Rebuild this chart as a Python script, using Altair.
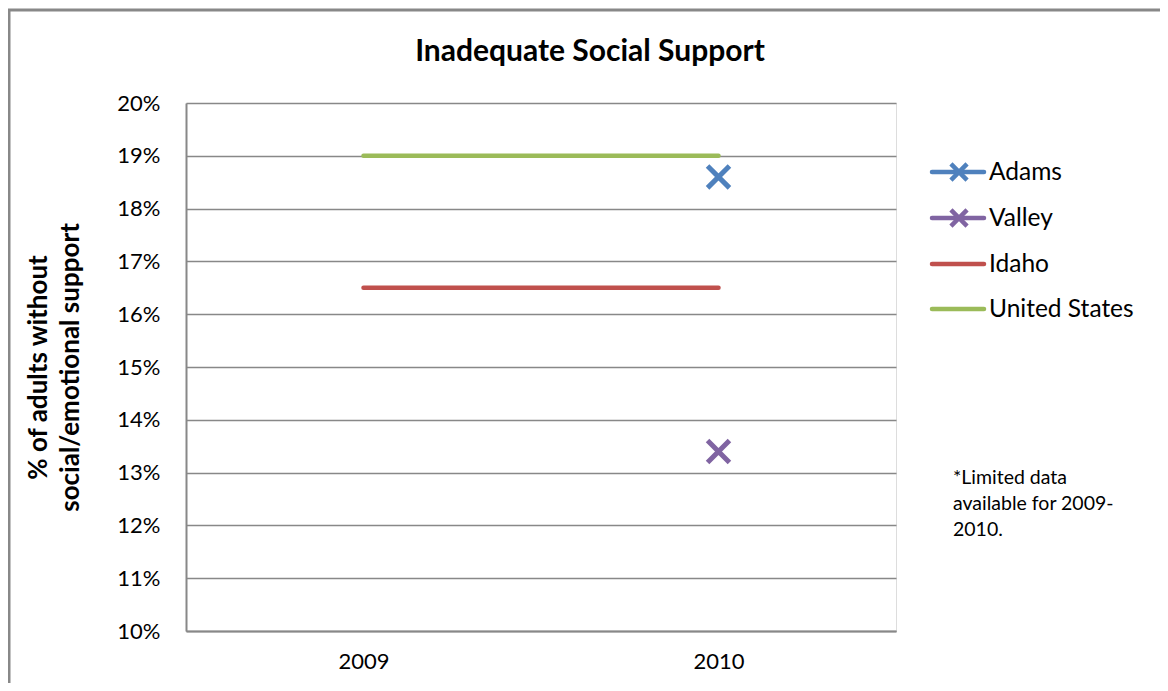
import altair as alt
import pandas as pd

FONT = "Lato"
title_text = "Inadequate Social Support"
years = ["2009", "2010"]
idaho = [0.165, 0.165]
united_states = [0.19, 0.19]
adams = [None, 0.186]
valley = [None, 0.134]
y_ticks = [0.10, 0.11, 0.12, 0.13, 0.14, 0.15, 0.16, 0.17, 0.18, 0.19, 0.20]

series_names = ["Adams", "Valley", "Idaho", "United States"]
series_colors = ["#4F81BD", "#8064A2", "#C0504D", "#9BBB59"]
footnote = ["*Limited data", "available for 2009-", "2010."]

XPATH = "M-1,-1L1,1M-1,1L1,-1"

rows = []
for name, vals in zip(series_names, [adams, valley, idaho, united_states]):
    for yr, v in zip(years, vals):
        if v is not None:
            rows.append({"year": yr, "series": name, "value": v})
df = pd.DataFrame(rows)

color_scale = alt.Scale(domain=series_names, range=series_colors)
x_enc = alt.X("year:O", scale=alt.Scale(type="point", padding=0.5, domain=years),
              axis=alt.Axis(title=None, labelAngle=0, ticks=False, domain=True,
                            domainColor="#888888", domainWidth=2, labelFontSize=22,
                            labelFont=FONT, labelColor="#000000", labelPadding=20, grid=False))
y_enc = alt.Y("value:Q", scale=alt.Scale(domain=[0.10, 0.20], nice=False, zero=False),
              axis=alt.Axis(values=y_ticks, format=".0%", ticks=False, domain=True,
                            domainColor="#888888", domainWidth=2, grid=True,
                            gridColor="#888888", gridWidth=1.5, labelFontSize=22,
                            labelFont=FONT, labelColor="#000000", labelPadding=26,
                            title=["% of adults without", "social/emotional support"],
                            titleFont=FONT, titleFontSize=26, titleFontWeight="bold",
                            titleColor="#000000", titlePadding=33, titleLineHeight=32))

lines = alt.Chart(df).transform_filter(
    alt.FieldOneOfPredicate(field="series", oneOf=["Idaho", "United States"])
).mark_line(strokeWidth=4.5, strokeCap="round").encode(
    x=x_enc, y=y_enc,
    color=alt.Color("series:N", scale=color_scale, legend=None),
    detail="series:N",
)

points = alt.Chart(df).transform_filter(
    alt.FieldOneOfPredicate(field="series", oneOf=["Adams", "Valley"])
).mark_point(shape=XPATH, size=480, filled=False, strokeWidth=5, opacity=1).encode(
    x=x_enc, y=y_enc,
    color=alt.Color("series:N", scale=color_scale, legend=None),
)

layers = [lines, points]

# border around whole chart
layers.append(alt.Chart(pd.DataFrame({"a": [0]})).mark_rect(
    filled=False, stroke="#888888", strokeWidth=3).encode(
    x=alt.value(-177), x2=alt.value(1100), y=alt.value(-93), y2=alt.value(700)))

# chart title
layers.append(alt.Chart(pd.DataFrame({"t": [title_text]})).mark_text(
    align="center", baseline="middle", fontSize=30, fontWeight="bold", font=FONT,
    color="#000000").encode(x=alt.value(404), y=alt.value(-51), text="t:N"))

# manual legend
leg_y = [69, 115, 161, 206]
for name, col, ly in zip(series_names, series_colors, leg_y):
    d = pd.DataFrame({"label": [name]})
    layers.append(alt.Chart(d).mark_rule(color=col, strokeWidth=4.5, strokeCap="round").encode(
        x=alt.value(746), x2=alt.value(798), y=alt.value(ly)))
    if name in ("Adams", "Valley"):
        layers.append(alt.Chart(d).mark_point(shape=XPATH, size=260, filled=False,
                                              strokeWidth=4.5, color=col, opacity=1).encode(
            x=alt.value(773), y=alt.value(ly)))
    layers.append(alt.Chart(d).mark_text(align="left", baseline="middle", fontSize=24.5,
                                         font=FONT, color="#000000").encode(
        x=alt.value(803), y=alt.value(ly + 1), text="label:N"))

# footnote
layers.append(alt.Chart(pd.DataFrame({"a": [0]})).mark_text(
    align="left", baseline="top", fontSize=19.5, font=FONT, color="#000000", lineHeight=26).encode(
    x=alt.value(767), y=alt.value(366), text=alt.value(footnote)))

chart = alt.layer(*layers).properties(
    width=710, height=528,
    autosize=alt.AutoSizeParams(type="none"),
    padding={"left": 178, "top": 95, "right": 264, "bottom": 52},
).configure_view(stroke=None).configure(background="#ffffff")

chart.save("out.html", embed_options={"renderer": "svg", "actions": False})
